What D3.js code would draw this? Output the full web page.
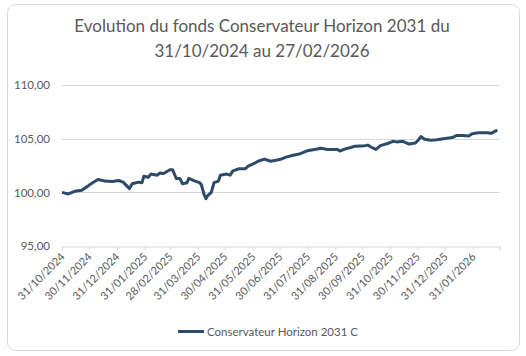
<!DOCTYPE html>
<html><head><meta charset="utf-8">
<script src="https://cdn.jsdelivr.net/npm/d3@7"></script>
<style>body{margin:0;background:#fff}svg{display:block}text{font-family:Lato,"Open Sans",sans-serif}</style>
</head><body>
<script>
const titleLines = ["Evolution du fonds Conservateur Horizon 2031 du", "31/10/2024 au 27/02/2026"];
const seriesName = "Conservateur Horizon 2031 C";
const dates = ["2024-10-31","2024-11-07","2024-11-14","2024-11-22","2024-11-29","2024-12-04","2024-12-10","2024-12-18","2024-12-26","2025-01-02","2025-01-07","2025-01-14","2025-01-17","2025-01-24","2025-01-28","2025-01-30","2025-02-04","2025-02-07","2025-02-14","2025-02-17","2025-02-21","2025-02-28","2025-03-03","2025-03-07","2025-03-11","2025-03-14","2025-03-19","2025-03-21","2025-03-28","2025-04-02","2025-04-04","2025-04-07","2025-04-09","2025-04-11","2025-04-15","2025-04-18","2025-04-23","2025-04-25","2025-05-02","2025-05-06","2025-05-09","2025-05-16","2025-05-23","2025-05-26","2025-06-03","2025-06-06","2025-06-13","2025-06-20","2025-06-30","2025-07-08","2025-07-15","2025-07-23","2025-08-01","2025-08-08","2025-08-15","2025-08-22","2025-09-02","2025-09-05","2025-09-11","2025-09-16","2025-09-22","2025-10-03","2025-10-06","2025-10-10","2025-10-15","2025-10-20","2025-10-28","2025-11-03","2025-11-07","2025-11-14","2025-11-21","2025-11-28","2025-12-02","2025-12-04","2025-12-08","2025-12-15","2025-12-22","2025-12-29","2026-01-08","2026-01-13","2026-01-20","2026-01-26","2026-01-30","2026-02-06","2026-02-16","2026-02-20","2026-02-27"];
const values = [100.0,99.85,100.1,100.2,100.6,100.9,101.2,101.05,101.0,101.1,100.95,100.35,100.8,100.95,100.9,101.5,101.4,101.7,101.6,101.8,101.75,102.1,102.1,101.3,101.3,100.8,100.9,101.3,101.05,100.9,100.7,99.8,99.4,99.7,100.0,100.9,101.05,101.6,101.7,101.6,102.0,102.2,102.2,102.45,102.75,102.9,103.1,102.9,103.05,103.3,103.45,103.6,103.9,104.0,104.1,104.0,104.0,103.85,104.05,104.15,104.3,104.35,104.4,104.2,104.0,104.35,104.55,104.75,104.7,104.75,104.5,104.6,104.95,105.2,104.95,104.85,104.9,105.0,105.1,105.3,105.3,105.25,105.45,105.55,105.55,105.5,105.8];
const yTicks = [95, 100, 105, 110];
const xTickDates = ["2024-10-31","2024-11-30","2024-12-31","2025-01-31","2025-02-28","2025-03-31","2025-04-30","2025-05-31","2025-06-30","2025-07-31","2025-08-31","2025-09-30","2025-10-31","2025-11-30","2025-12-31","2026-01-31"];

const W = 526, H = 356;
const parse = d3.utcParse("%Y-%m-%d");
const fmtX = d3.utcFormat("%d/%m/%Y");
const fmtY = v => d3.format(".2f")(v).replace(".", ",");
const data = dates.map((d, i) => ({date: parse(d), value: values[i]}));

const svg = d3.select("body").append("svg").attr("width", W).attr("height", H);
svg.append("rect").attr("x", 7.5).attr("y", 4.5).attr("width", 512).attr("height", 346)
  .attr("rx", 8).attr("fill", "#fff").attr("stroke", "#d9d9d9");

const t = svg.append("text").attr("text-anchor", "middle").attr("fill", "#595959").style("font-size", "17px");
titleLines.forEach((l, i) => t.append("tspan").attr("x", 262).attr("y", 32 + i * 25).text(l));

const x = d3.scaleUtc().domain([parse("2024-10-31"), parse("2026-03-02")]).range([62, 500]);
const y = d3.scaleLinear().domain([95, 110]).range([246, 85]);

svg.append("g").selectAll("line").data(yTicks.slice(1)).join("line")
  .attr("x1", 62).attr("x2", 500).attr("y1", d => Math.round(y(d)) + 0.5).attr("y2", d => Math.round(y(d)) + 0.5)
  .attr("stroke", "#d9d9d9");

const ya = svg.append("g").attr("transform", "translate(62,0)")
  .call(d3.axisLeft(y).tickValues(yTicks).tickFormat(fmtY).tickSize(0).tickPadding(12));
ya.select(".domain").remove();
ya.selectAll("text").attr("fill", "#595959").style("font-size", "11.5px").style("font-family", "Lato");

const xa = svg.append("g").attr("transform", `translate(0,${Math.round(y(95)) + 0.5})`)
  .call(d3.axisBottom(x).tickValues(xTickDates.map(parse).concat([parse("2026-03-02")])).tickFormat(d => fmtX(d)).tickSize(4).tickSizeOuter(0));
xa.select(".domain").attr("stroke", "#d9d9d9");
xa.selectAll(".tick line").attr("stroke", "#d9d9d9");
xa.selectAll(".tick text").attr("fill", "#595959").style("font-size", "11px").style("font-family", "Lato")
  .attr("text-anchor", "end").attr("dy", null).attr("y", 0)
  .attr("transform", "translate(3,11) rotate(-45)");
xa.selectAll(".tick").filter((d, i) => i === xTickDates.length).select("text").remove();

svg.append("path").datum(data)
  .attr("d", d3.line().x(d => x(d.date)).y(d => y(d.value)))
  .attr("fill", "none").attr("stroke", "#2e4a6a").attr("stroke-width", 3).attr("stroke-linejoin", "round");

svg.append("line").attr("x1", 178).attr("x2", 204).attr("y1", 331.5).attr("y2", 331.5)
  .attr("stroke", "#2e4a6a").attr("stroke-width", 3);
svg.append("text").attr("x", 207).attr("y", 335.5).attr("fill", "#595959").style("font-size", "11.5px").text(seriesName);
</script>
</body></html>
